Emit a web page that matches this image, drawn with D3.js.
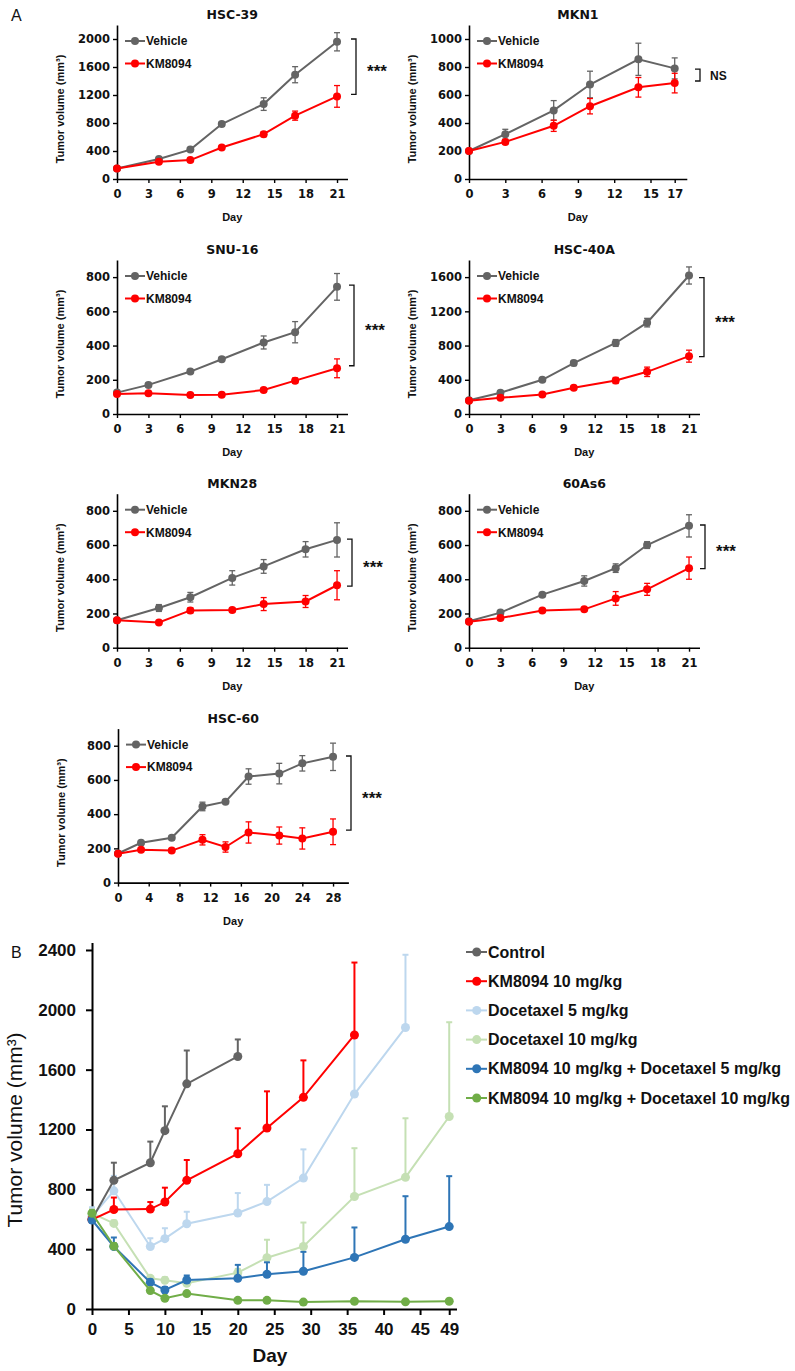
<!DOCTYPE html>
<html><head><meta charset="utf-8">
<script src="https://cdn.jsdelivr.net/npm/d3@7"></script>
<style>body{margin:0;background:#fff;} svg{display:block;background:#fff;}</style>
</head><body><svg id="c" width="795" height="1371"></svg>
<script>
// ---------------- DATA : panel A ----------------
const hsc39Days = [0,4,7,10,14,17,21];
const hsc39Veh = [150,285,420,785,1070,1490,1960];
const hsc39VehErr = [15,20,25,30,90,115,130];
const hsc39Km = [150,245,270,450,640,905,1180];
const hsc39KmErr = [15,20,20,25,35,65,155];

const mkn1Days = [0,3,7,10,14,17];
const mkn1Veh = [200,320,490,675,855,790];
const mkn1VehErr = [10,35,70,95,115,75];
const mkn1Km = [200,265,380,520,655,685];
const mkn1KmErr = [10,15,40,55,70,70];

const snu16Days = [0,3,7,10,14,17,21];
const snu16Veh = [125,170,248,320,418,478,743];
const snu16VehErr = [8,10,10,12,38,62,78];
const snu16Km = [117,121,111,113,140,195,267];
const snu16KmErr = [8,8,8,8,10,15,55];

const hsc40aDays = [0,3,7,10,14,17,21];
const hsc40aVeh = [160,249,400,595,830,1068,1619];
const hsc40aVehErr = [10,20,20,30,40,50,100];
const hsc40aKm = [155,190,229,307,392,493,676];
const hsc40aKmErr = [10,15,15,20,35,55,70];

const mkn28Days = [0,4,7,11,14,18,21];
const mkn28Veh = [160,232,295,408,475,575,630];
const mkn28VehErr = [10,20,28,42,40,45,100];
const mkn28Km = [160,148,218,220,255,270,365];
const mkn28KmErr = [10,10,15,12,38,35,85];

const as6Days = [0,3,7,11,14,17,21];
const as6Veh = [155,205,310,390,465,600,712];
const as6VehErr = [10,10,12,30,25,20,65];
const as6Km = [152,173,218,224,288,341,465];
const as6KmErr = [10,10,10,10,40,35,65];

const hsc60Days = [0,3,7,11,14,17,21,24,28];
const hsc60Veh = [170,233,262,445,473,620,637,697,735];
const hsc60VehErr = [10,12,12,25,10,45,60,45,80];
const hsc60Km = [168,192,187,250,208,293,275,258,297];
const hsc60KmErr = [10,10,10,30,30,62,50,62,75];

const seriesNamesA = ["Vehicle","KM8094"];
const titlesA = ["HSC-39","MKN1","SNU-16","HSC-40A","MKN28","60As6","HSC-60"];
const signifA = ["***","NS","***","***","***","***","***"];
const ticks21 = [0,3,6,9,12,15,18,21];
const ticks17 = [0,3,6,9,12,15,17];
const ticks28 = [0,4,8,12,16,20,24,28];
const yTicks2000 = [0,400,800,1200,1600,2000];
const yTicks1000 = [0,200,400,600,800,1000];
const yTicks800 = [0,200,400,600,800];
const yTicks1600 = [0,400,800,1200,1600];

// ---------------- DATA : panel B ----------------
const daysB = [0,3,8,10,13,20,24,29,36,43,49];
const namesB = ["Control","KM8094 10 mg/kg","Docetaxel 5 mg/kg","Docetaxel 10 mg/kg",
  "KM8094 10 mg/kg + Docetaxel 5 mg/kg","KM8094 10 mg/kg + Docetaxel 10 mg/kg"];
const controlB = [600,860,978,1192,1505,1688];
const controlErrB = [0,118,141,163,223,114];
const km10B = [598,665,668,715,860,1038,1210,1415,1832];
const km10ErrB = [0,80,47,96,136,170,245,247,484];
const doc5B = [620,790,418,470,570,642,718,875,1437,1882];
const doc5ErrB = [60,100,55,70,80,133,112,192,380,486];
const doc10B = [640,572,205,192,172,243,343,418,752,880,1287];
const doc10ErrB = [30,20,15,20,15,25,120,160,323,395,630];
const kmDoc5B = [595,418,178,127,194,205,232,252,345,466,551];
const kmDoc5ErrB = [20,60,20,20,30,90,80,130,200,288,337];
const kmDoc10B = [640,420,123,72,103,58,58,46,52,48,52];
const kmDoc10ErrB = [20,20,10,10,10,5,5,5,5,5,5];
const xTicksB = [0,5,10,15,20,25,30,35,40,45,49];
const yTicksB = [0,400,800,1200,1600,2000,2400];

// ---------------- DRAW ----------------
const svg = d3.select("#c");
const GRAY = "#646464", RED = "#ff0000";
const fontB = "'Liberation Sans', Arial, sans-serif";
const fontD = "'DejaVu Sans', sans-serif";
const fmt = d3.format("d");

function panelA(cfg) {
  const H = 154;
  const x = d3.scaleLinear().domain([0, cfg.xMax]).range([cfg.x0, cfg.x1]);
  const y = d3.scaleLinear().domain([0, cfg.yMax]).range([cfg.y0, cfg.y0 - H]);
  const g = svg.append("g");

  const ax = g.append("g").attr("transform", `translate(0,${cfg.y0})`)
    .call(d3.axisBottom(x).tickValues(cfg.xTicks).tickFormat(fmt).tickSize(4).tickPadding(7).tickSizeOuter(0));
  const ay = g.append("g").attr("transform", `translate(${cfg.x0},0)`)
    .call(d3.axisLeft(y).tickValues(cfg.yTicks).tickFormat(fmt).tickSize(4).tickPadding(3).tickSizeOuter(0));
  [ax, ay].forEach(a => {
    a.select(".domain").attr("stroke", "#000").attr("stroke-width", 1.6);
    a.selectAll(".tick line").attr("stroke", "#000").attr("stroke-width", 1.4);
    a.selectAll(".tick text").attr("fill", "#111").style("font-family", fontD)
      .style("font-weight", "bold").style("font-size", "11.5px");
  });

  const series = [[cfg.veh, cfg.vehErr, GRAY], [cfg.km, cfg.kmErr, RED]];
  series.forEach(([m, e, c]) => {
    const pts = cfg.days.map((d, i) => ({d, v: m[i], e: e[i]}));
    g.append("path").datum(pts).attr("fill", "none").attr("stroke", c).attr("stroke-width", 2)
      .attr("d", d3.line().x(p => x(p.d)).y(p => y(p.v)));
    const eb = g.append("g").attr("stroke", c).attr("stroke-width", 1.3);
    pts.forEach(p => {
      eb.append("line").attr("x1", x(p.d)).attr("x2", x(p.d)).attr("y1", y(p.v - p.e)).attr("y2", y(p.v + p.e));
      [p.v - p.e, p.v + p.e].forEach(v => eb.append("line").attr("x1", x(p.d) - 3).attr("x2", x(p.d) + 3)
        .attr("y1", y(v)).attr("y2", y(v)));
    });
    g.append("g").selectAll("circle").data(pts).join("circle")
      .attr("cx", p => x(p.d)).attr("cy", p => y(p.v)).attr("r", 4).attr("fill", c);
  });

  // title
  g.append("text").attr("x", (cfg.x0 + cfg.x1) / 2).attr("y", cfg.y0 - H - 6)
    .attr("text-anchor", "middle").style("font-family", fontD).style("font-weight", "bold")
    .style("font-size", "12.5px").attr("fill", "#111").text(cfg.title);
  // legend
  series.forEach(([m, e, c], i) => {
    const ly = cfg.y0 - H + 16 + i * 22.5;
    g.append("line").attr("x1", cfg.x0 + 8).attr("x2", cfg.x0 + 28).attr("y1", ly).attr("y2", ly)
      .attr("stroke", c).attr("stroke-width", 2);
    g.append("circle").attr("cx", cfg.x0 + 18).attr("cy", ly).attr("r", 4).attr("fill", c);
    g.append("text").attr("x", cfg.x0 + 29).attr("y", ly + 4.3).style("font-family", fontB)
      .style("font-weight", "bold").style("font-size", "12px").attr("fill", "#111").text(seriesNamesA[i]);
  });
  // axis labels
  g.append("text").attr("x", (cfg.x0 + cfg.x1) / 2).attr("y", cfg.y0 + 42)
    .attr("text-anchor", "middle").style("font-family", fontB).style("font-weight", "bold")
    .style("font-size", "11px").attr("fill", "#111").text("Day");
  const ly = cfg.y0 - H / 2 + 7, lx = cfg.x0 - 53;
  g.append("text").attr("transform", `translate(${lx},${ly}) rotate(-90)`)
    .attr("text-anchor", "middle").style("font-family", fontB).style("font-weight", "bold")
    .style("font-size", "11px").attr("fill", "#111").text("Tumor volume (mm³)");
  // bracket
  const bx = cfg.bx, yt = y(cfg.bTop), yb = y(cfg.bBot);
  g.append("path").attr("fill", "none").attr("stroke", "#111").attr("stroke-width", 1.3)
    .attr("d", `M${bx - 5},${yt}H${bx}V${yb}H${bx - 5}`);
  if (cfg.sig === "NS") {
    g.append("text").attr("x", bx + 10).attr("y", (yt + yb) / 2 + 4.5).style("font-family", fontB)
      .style("font-weight", "bold").style("font-size", "12px").attr("fill", "#111").text(cfg.sig);
  } else {
    g.append("text").attr("x", bx + 21).attr("y", (yt + yb) / 2 + 10.5).attr("text-anchor", "middle")
      .style("font-family", fontB).style("font-weight", "bold").style("font-size", "17px")
      .attr("fill", "#111").text(cfg.sig);
  }
}

const L0 = 117, L1 = 347.5, R0 = 469, R1 = 699.5;
panelA({title: titlesA[0], sig: signifA[0], x0: L0, x1: L1, xMax: 22, y0: 179, yMax: 2200,
  xTicks: ticks21, yTicks: yTicks2000, days: hsc39Days, veh: hsc39Veh, vehErr: hsc39VehErr,
  km: hsc39Km, kmErr: hsc39KmErr, bx: 356, bTop: hsc39Veh[6] + 40, bBot: hsc39Km[6] + 30});
panelA({title: titlesA[1], sig: signifA[1], x0: R0, x1: 686.8, xMax: 18, y0: 179, yMax: 1100,
  xTicks: ticks17, yTicks: yTicks1000, days: mkn1Days, veh: mkn1Veh, vehErr: mkn1VehErr,
  km: mkn1Km, kmErr: mkn1KmErr, bx: 700, bTop: 785, bBot: 700});
panelA({title: titlesA[2], sig: signifA[2], x0: L0, x1: L1, xMax: 22, y0: 414, yMax: 900,
  xTicks: ticks21, yTicks: yTicks800, days: snu16Days, veh: snu16Veh, vehErr: snu16VehErr,
  km: snu16Km, kmErr: snu16KmErr, bx: 354, bTop: snu16Veh[6] + 10, bBot: snu16Km[6] + 15});
panelA({title: titlesA[3], sig: signifA[3], x0: R0, x1: R1, xMax: 22, y0: 414, yMax: 1800,
  xTicks: ticks21, yTicks: yTicks1600, days: hsc40aDays, veh: hsc40aVeh, vehErr: hsc40aVehErr,
  km: hsc40aKm, kmErr: hsc40aKmErr, bx: 704, bTop: hsc40aVeh[6] - 25, bBot: hsc40aKm[6] - 5});
panelA({title: titlesA[4], sig: signifA[4], x0: L0, x1: L1, xMax: 22, y0: 647.7, yMax: 900,
  xTicks: ticks21, yTicks: yTicks800, days: mkn28Days, veh: mkn28Veh, vehErr: mkn28VehErr,
  km: mkn28Km, kmErr: mkn28KmErr, bx: 352, bTop: mkn28Veh[6] + 5, bBot: mkn28Km[6] - 5});
panelA({title: titlesA[5], sig: signifA[5], x0: R0, x1: R1, xMax: 22, y0: 647.7, yMax: 900,
  xTicks: ticks21, yTicks: yTicks800, days: as6Days, veh: as6Veh, vehErr: as6VehErr,
  km: as6Km, kmErr: as6KmErr, bx: 705, bTop: as6Veh[6] + 5, bBot: as6Km[6] - 3});
panelA({title: titlesA[6], sig: signifA[6], x0: 118, x1: 348.4, xMax: 30, y0: 882.6, yMax: 900,
  xTicks: ticks28, yTicks: yTicks800, days: hsc60Days, veh: hsc60Veh, vehErr: hsc60VehErr,
  km: hsc60Km, kmErr: hsc60KmErr, bx: 351, bTop: hsc60Veh[8] + 5, bBot: hsc60Km[8] + 10});

svg.append("text").attr("x", 11).attr("y", 21).style("font-family", fontB)
  .style("font-size", "16px").attr("fill", "#111").text("A");

// ---------------- Panel B ----------------
(function () {
  const xB = d3.scaleLinear().domain([0, 50]).range([92, 456.5]);
  const yB = d3.scaleLinear().domain([0, 2450]).range([1309, 942.5]);
  const g = svg.append("g");
  const ax = g.append("g").attr("transform", "translate(0,1309)")
    .call(d3.axisBottom(xB).tickValues(xTicksB).tickFormat(fmt).tickSize(6).tickPadding(8).tickSizeOuter(0));
  const ay = g.append("g").attr("transform", "translate(92,0)")
    .call(d3.axisLeft(yB).tickValues(yTicksB).tickFormat(fmt).tickSize(6).tickPadding(10).tickSizeOuter(0));
  [ax, ay].forEach(a => {
    a.select(".domain").attr("stroke", "#000").attr("stroke-width", 2);
    a.selectAll(".tick line").attr("stroke", "#000").attr("stroke-width", 2);
    a.selectAll(".tick text").attr("fill", "#111").style("font-family", fontB)
      .style("font-weight", "bold").style("font-size", "17px");
  });
  const colors = ["#646464", "#ff0000", "#bdd7ee", "#c5e0b4", "#2e75b6", "#70ad47"];
  const means = [controlB, km10B, doc5B, doc10B, kmDoc5B, kmDoc10B];
  const errs = [controlErrB, km10ErrB, doc5ErrB, doc10ErrB, kmDoc5ErrB, kmDoc10ErrB];
  const order = [3, 2, 0, 1, 4, 5];
  order.forEach(k => {
    const pts = means[k].map((v, i) => ({d: daysB[i], v, e: errs[k][i]}));
    const c = colors[k];
    const eb = g.append("g").attr("stroke", c).attr("stroke-width", 2);
    pts.forEach(p => {
      if (p.e <= 0) return;
      eb.append("line").attr("x1", xB(p.d)).attr("x2", xB(p.d)).attr("y1", yB(p.v)).attr("y2", yB(p.v + p.e));
      eb.append("line").attr("x1", xB(p.d) - 3).attr("x2", xB(p.d) + 3).attr("y1", yB(p.v + p.e)).attr("y2", yB(p.v + p.e));
    });
    g.append("path").datum(pts).attr("fill", "none").attr("stroke", c).attr("stroke-width", 2)
      .attr("d", d3.line().x(p => xB(p.d)).y(p => yB(p.v)));
    g.append("g").selectAll("circle").data(pts).join("circle")
      .attr("cx", p => xB(p.d)).attr("cy", p => yB(p.v)).attr("r", 4.5).attr("fill", c);
  });
  // legend
  namesB.forEach((n, i) => {
    const ly = 952 + i * 29.2;
    g.append("line").attr("x1", 466).attr("x2", 487).attr("y1", ly).attr("y2", ly)
      .attr("stroke", colors[i]).attr("stroke-width", 2);
    g.append("circle").attr("cx", 476.7).attr("cy", ly).attr("r", 4.5).attr("fill", colors[i]);
    g.append("text").attr("x", 488).attr("y", ly + 5.5).style("font-family", fontB)
      .style("font-weight", "bold").style("font-size", "16px").attr("fill", "#111").text(n);
  });
  g.append("text").attr("x", 270).attr("y", 1362).attr("text-anchor", "middle")
    .style("font-family", fontB).style("font-weight", "bold").style("font-size", "19px")
    .attr("fill", "#111").text("Day");
  g.append("text").attr("transform", "translate(22,1130) rotate(-90)").attr("text-anchor", "middle")
    .style("font-family", fontB).style("font-size", "21px").attr("fill", "#111").text("Tumor volume (mm³)");
  svg.append("text").attr("x", 11).attr("y", 958).style("font-family", fontB)
    .style("font-size", "16px").attr("fill", "#111").text("B");
})();
</script></body></html>
